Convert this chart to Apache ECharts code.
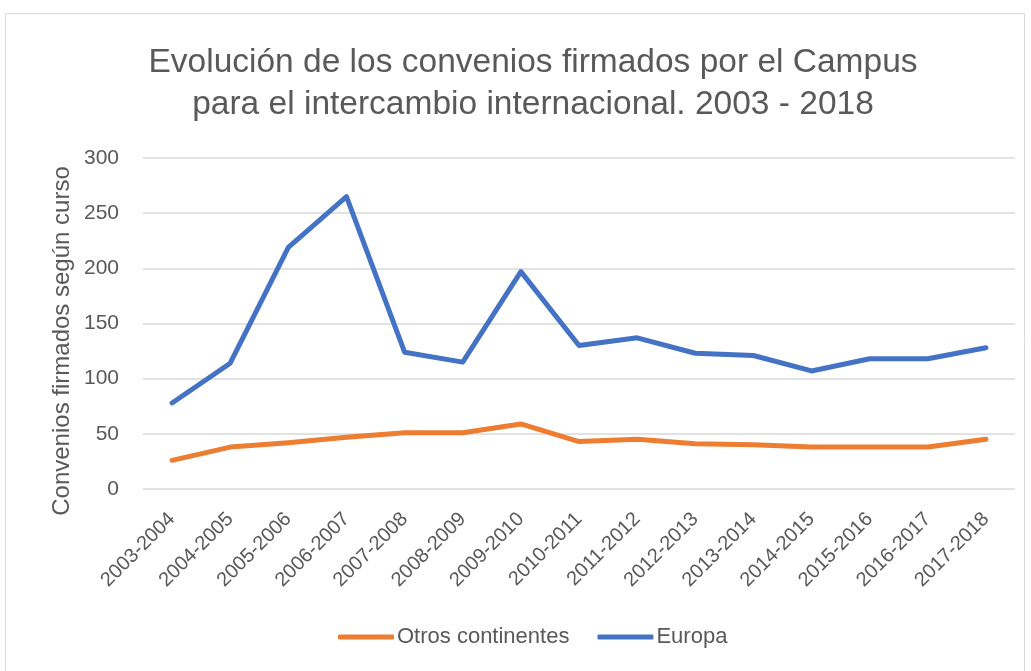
<!DOCTYPE html>
<html>
<head>
<meta charset="utf-8">
<script src="https://cdn.jsdelivr.net/npm/echarts@6/dist/echarts.min.js"></script>
<style>html,body{margin:0;padding:0;background:#fff}#c{width:1031px;height:671px}</style>
</head>
<body>
<div id="c"></div>
<script>
const categories = ["2003-2004","2004-2005","2005-2006","2006-2007","2007-2008","2008-2009","2009-2010","2010-2011","2011-2012","2012-2013","2013-2014","2014-2015","2015-2016","2016-2017","2017-2018"];
const otrosContinentes = [26, 38, 42, 47, 51, 51, 59, 43, 45, 41, 40, 38, 38, 38, 45];
const europa = [78, 114, 219, 265, 124, 115, 197, 130, 137, 123, 121, 107, 118, 118, 128];
const yTicks = [0, 50, 100, 150, 200, 250, 300];
const yAxisTitle = 'Convenios firmados según curso';

const font = "'Liberation Sans', Arial, sans-serif";
const chart = echarts.init(document.getElementById('c'), null, {renderer: 'canvas'});
chart.setOption({
  animation: false,
  graphic: [{
    type: 'rect', shape: {x: 5.5, y: 13.5, width: 1019, height: 680},
    style: {fill: 'none', stroke: '#d9d9d9', lineWidth: 1}, silent: true
  }, {
    type: 'text', x: 62, y: 341, rotation: Math.PI / 2,
    style: {text: yAxisTitle, fontFamily: font, fontSize: 24, fill: '#595959',
            align: 'center', verticalAlign: 'middle'}, silent: true
  }],
  title: {
    text: 'Evolución de los convenios firmados por el Campus\npara el intercambio internacional. 2003 - 2018',
    left: 528, textAlign: 'center', top: 37,
    textStyle: {fontFamily: font, fontSize: 33.5, fontWeight: 'normal', color: '#595959', lineHeight: 42}
  },
  legend: {
    bottom: 18, left: 333, itemWidth: 56, itemHeight: 5, itemGap: 28,
    icon: 'roundRect',
    textStyle: {fontFamily: font, fontSize: 22, color: '#595959', padding: [0, 0, 0, -2]},
    data: ['Otros continentes', 'Europa']
  },
  grid: {left: 143, right: 16, top: 158, bottom: 182},
  xAxis: {
    type: 'category', data: categories, boundaryGap: true,
    axisLine: {show: false}, axisTick: {show: false},
    axisLabel: {rotate: 45, fontFamily: font, fontSize: 20, color: '#595959', margin: 27, interval: 0}
  },
  yAxis: {
    type: 'value', min: yTicks[0], max: yTicks[yTicks.length - 1], interval: 50,
    axisLine: {show: false}, axisTick: {show: false},
    axisLabel: {fontFamily: font, fontSize: 21, color: '#595959', margin: 24},
    splitLine: {lineStyle: {color: '#d9d9d9', width: 1.5}}
  },
  series: [
    {name: 'Otros continentes', type: 'line', data: otrosContinentes, symbol: 'none',
     lineStyle: {color: '#ED7D31', width: 5, cap: 'round', join: 'round'}, itemStyle: {color: '#ED7D31'}},
    {name: 'Europa', type: 'line', data: europa, symbol: 'none',
     lineStyle: {color: '#4472C4', width: 5, cap: 'round', join: 'round'}, itemStyle: {color: '#4472C4'}}
  ]
});
</script>
</body>
</html>
